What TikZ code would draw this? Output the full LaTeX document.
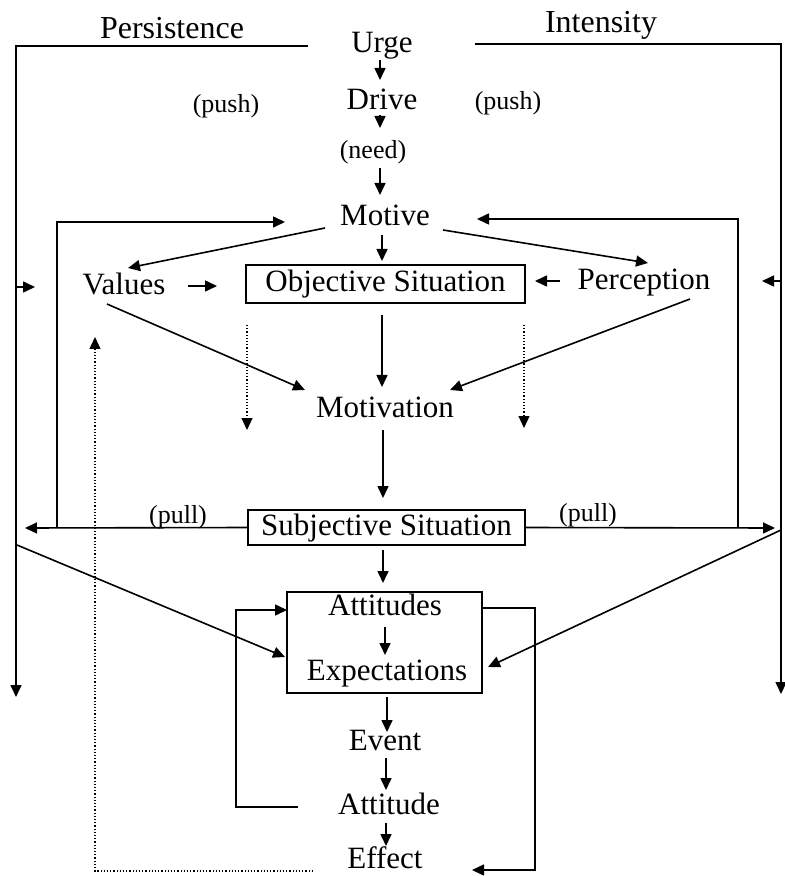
\documentclass[tikz,border=0pt]{standalone}
\usepackage{fontspec}
\setmainfont{Liberation Serif}
\usetikzlibrary{arrows.meta,calc}
\begin{document}
\begin{tikzpicture}[x=0.5pt,y=-0.5pt,
  main/.style={font=\fontsize{15.5}{18}\selectfont, text height=10.9pt, text depth=3.1pt, inner sep=1.5pt},
  lab/.style={font=\fontsize{13}{15}\selectfont, text height=9pt, text depth=2.6pt, inner sep=1.5pt},
  head/.style={font=\fontsize{16}{19}\selectfont, inner sep=1.5pt},
  boxed/.style={draw, line width=0.8pt, inner sep=0pt},
  ln/.style={line width=0.8pt},
  arr/.style={line width=0.8pt, -{Triangle[length=6pt,width=5.5pt]}},
  dotarr/.style={line width=0.6pt, densely dotted, -{Triangle[length=6pt,width=5.5pt]}}
]
\fill[white] (0,0) rectangle (784,876);
\useasboundingbox (0,0) rectangle (784,876);

% headings and labels
\node[head] (pers) at (172,28) {Persistence};
\node[head] (inten) at (601,25) {Intensity};
\node[lab] (pushL) at (226,106) {(push)};
\node[lab] (pushR) at (508,103) {(push)};
\node[lab] (need) at (373,152) {(need)};
\node[lab] (pullLt) at (178,517) {(pull)};
\node[lab] (pullRt) at (588,515) {(pull)};

% main nodes
\node[main] (urge) at (382,45) {Urge};
\node[main] (drive) at (382,102) {Drive};
\node[main] (motive) at (385,218) {Motive};
\node[main] (values) at (124,287) {Values};
\node[main, boxed, minimum width=139.5pt, minimum height=19pt] (obj) at (385.5,284) {Objective Situation};
\node[main] (perc) at (644,282) {Perception};
\node[main] (motivation) at (385,410) {Motivation};
\node[main, boxed, minimum width=138.5pt, minimum height=17.5pt] (subj) at (386.5,527.5) {Subjective Situation};
\node[boxed, minimum width=97.5pt, minimum height=50.5pt] (abox) at (384.5,642.5) {};
\node[main] (attitudes) at (385,608) {Attitudes};
\node[main] (expect) at (387,673) {Expectations};
\node[main] (event) at (385,743) {Event};
\node[main] (attitude) at (389,807) {Attitude};
\node[main, text depth=0pt] (effect) at (385,858) {Effect};

% central chain
\draw[arr] ($(urge)+(-2,15)$) -- ($(drive)+(-2,-22)$);
\draw[arr] ($(drive)+(-2,13)$) -- ($(need)+(7,-24)$);
\draw[arr] ($(need)+(7,16)$) -- ($(motive)+(-5,-23)$);
\draw[arr] ($(motive)+(-3,17)$) -- ($(obj)+(-3.5,-23)$);
\draw[arr] ($(obj)+(-3.5,31)$) -- ($(motivation)+(-3,-23)$);
\draw[arr] ($(motivation)+(-2,20)$) -- ($(subj)+(-3.5,-29.5)$);
\draw[arr] ($(subj)+(-3.5,22.5)$) -- ($(abox)+(-1.5,-59.5)$);
\draw[arr] ($(attitudes)+(0,19)$) -- ($(expect)+(-2,-18)$);
\draw[arr] ($(abox)+(2.5,54.5)$) -- ($(event)+(2,-11)$);
\draw[arr] ($(event)+(1,15)$) -- ($(attitude)+(-3,-17)$);
\draw[arr] ($(attitude)+(-3,16)$) -- ($(effect)+(1,-12)$);

% motive fan
\draw[arr] ($(motive)+(-60,10)$) -- ($(values)+(4,-19)$);
\draw[arr] ($(motive)+(58,12)$) -- ($(perc)+(4,-19)$);
\draw[arr] ($(values)+(64,-1)$) -- ($(obj)+(-168.5,2)$);
\draw[arr] ($(perc)+(-84,-1)$) -- ($(obj)+(149.5,-3)$);
\draw[arr] ($(values)+(-17,17)$) -- ($(motivation)+(-80,-20)$);
\draw[arr] ($(perc)+(46,17)$) -- ($(motivation)+(65,-20)$);

% dotted short arrows
\draw[dotarr] ($(obj)+(-138.5,41)$) -- ($(obj)+(-138.5,146)$);
\draw[dotarr] ($(obj)+(138.5,41)$) -- ($(obj)+(138.5,144)$);

% outer frame: persistence
\coordinate (PR) at (308,46);
\coordinate (PL) at (16,46);
\coordinate (PB) at (16,697);
\coordinate (PA) at (16,287);
\draw[arr] (PR) -- (PL) -- (PB);
\draw[arr] (PA) -- ++(19,0);

% outer frame: intensity
\coordinate (IL) at (475,44);
\coordinate (IR) at (781,44);
\coordinate (IB) at (781,694);
\coordinate (IA) at (781,281);
\draw[arr] (IL) -- (IR) -- (IB);
\draw[arr] (IA) -- ++(-19,0);

% pull lines and inner loops
\coordinate (pullL) at (25,528);
\coordinate (pullR) at (775,528);
\draw[arr] (subj.west) -- (pullL);
\draw[arr] (subj.east) -- (pullR);
\coordinate (LLb) at (57,528);
\coordinate (LLt) at (57,222);
\coordinate (LLa) at (285,222);
\draw[arr] (LLb) -- (LLt) -- (LLa);
\coordinate (RLb) at (738,528);
\coordinate (RLt) at (738,219);
\coordinate (RLa) at (477,219);
\draw[arr] (RLb) -- (RLt) -- (RLa);

% diagonals into expectations
\coordinate (DL) at (17,545);
\coordinate (DR) at (781,530);
\draw[arr] (DL) -- ($(abox)+(-99.5,14.5)$);
\draw[arr] (DR) -- ($(abox)+(103.5,24.5)$);

% attitude loops
\coordinate (LL1) at (236,807);
\coordinate (LL2) at (236,610);
\draw[arr] ($(attitude)+(-91,0)$) -- (LL1) -- (LL2) -- ($(abox)+(-97.5,-32.5)$);
\coordinate (RR1) at (535,608);
\coordinate (RR2) at (535,870);
\draw[arr] ($(abox)+(97.5,-34.5)$) -- (RR1) -- (RR2) -- ($(effect)+(87,12)$);

% dotted feedback from effect
\coordinate (DD1) at (95,871);
\coordinate (DD2) at (95,337);
\draw[dotarr] ($(effect)+(-72,13)$) -- (DD1) -- (DD2);
\end{tikzpicture}
\end{document}
